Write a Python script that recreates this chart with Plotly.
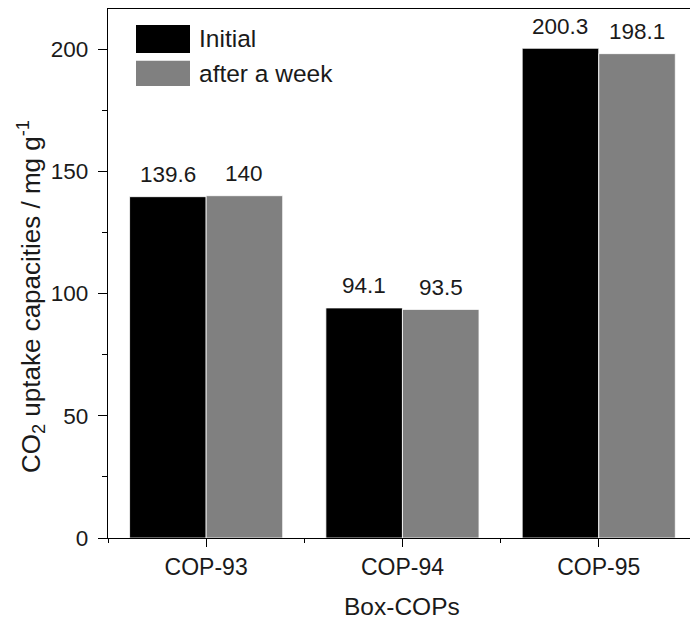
import plotly.graph_objects as go

# CO2 uptake of the three box-shaped COPs, freshly made and after one week
categories = ["COP-93", "COP-94", "COP-95"]
initial = [139.6, 94.1, 200.3]
after_week = [140.0, 93.5, 198.1]
series_names = ["Initial", "after a week"]
y_ticks = [0, 50, 100, 150, 200]

FONT = "Liberation Sans, Arial, sans-serif"
TXT = "#1a1a1a"
BLACK = "#000000"
GREY = "#808080"

W, H = 690, 625
ML, MR, MT, MB = 108, 0, 9, 87
plot_w = W - ML - MR
plot_h = H - MT - MB
y0_px = MT + plot_h  # pixel row of the x axis
px_per_cat = 196.3
px_per_unit = 2.445
x_range = [-0.5, -0.5 + plot_w / px_per_cat]
y_range = [0, plot_h / px_per_unit]

bargap = 0.22
half = (1 - bargap) / 4  # centre offset of each bar within its group

xpos = list(range(len(categories)))

fig = go.Figure()
for name, vals, col in [(series_names[0], initial, BLACK), (series_names[1], after_week, GREY)]:
    fig.add_trace(go.Bar(
        x=xpos, y=vals, name=name,
        marker=dict(color=col, line=dict(color="#ffffff", width=0.8)),
        showlegend=False,
    ))

# value labels above each bar
annotations = []
for i in xpos:
    for vals, off in [(initial, -half), (after_week, half)]:
        annotations.append(dict(
            x=i + off, y=vals[i], xref="x", yref="y", text=f"{vals[i]:g}",
            showarrow=False, yanchor="middle", yshift=22,
            font=dict(family=FONT, size=22.5, color=TXT),
        ))

# axis titles
annotations.append(dict(
    x=1, y=(y0_px - 606) / plot_h, xref="x", yref="paper", text="Box-COPs",
    showarrow=False, xanchor="center", yanchor="middle",
    font=dict(family=FONT, size=24.5, color=TXT),
))
annotations.append(dict(
    x=(31 - ML) / plot_w, y=(y0_px - 297) / plot_h, xref="paper", yref="paper",
    text="CO<sub>2</sub> uptake capacities / mg g<sup>-1</sup>", textangle=-90,
    showarrow=False, xanchor="center", yanchor="middle",
    font=dict(family=FONT, size=26, color=TXT),
))


def px2paper(xp, yp):
    return (xp - ML) / plot_w, (y0_px - yp) / plot_h


# legend: swatches and labels
shapes = []
for (ya, yb), col, label in [((25, 53), BLACK, series_names[0]), ((60.7, 86), GREY, series_names[1])]:
    ax0, ay0 = px2paper(136, yb)
    ax1, ay1 = px2paper(190, ya)
    shapes.append(dict(type="rect", xref="paper", yref="paper", x0=ax0, x1=ax1, y0=ay0, y1=ay1,
                       fillcolor=col, line=dict(width=0)))
    tx, ty = px2paper(197, (ya + yb) / 2)
    annotations.append(dict(
        x=tx, y=ty, xref="paper", yref="paper", text=label, showarrow=False,
        xanchor="left", yanchor="middle", font=dict(family=FONT, size=24.5, color=TXT),
    ))

fig.update_layout(
    width=W, height=H,
    margin=dict(l=ML, r=MR, t=MT, b=MB, pad=0),
    paper_bgcolor="white", plot_bgcolor="white",
    barmode="group", bargap=bargap, bargroupgap=0,
    annotations=annotations, shapes=shapes,
    font=dict(family=FONT, size=23, color=TXT),
)
fig.update_xaxes(
    range=x_range, tickmode="array", tickvals=xpos, ticktext=categories,
    showline=True, linecolor="black", linewidth=1.3, mirror=True,
    ticks="outside", ticklen=8, tickwidth=1.2, tickcolor="black",
    minor=dict(tickvals=[-0.5, 0.5, 1.5, 2.5], ticks="outside", ticklen=4, tickwidth=1.2, tickcolor="black"),
    showgrid=False, zeroline=False,
    tickfont=dict(family=FONT, size=23, color=TXT),
)
fig.update_yaxes(
    range=y_range, tickmode="array", tickvals=y_ticks,
    showline=True, linecolor="black", linewidth=1.3, mirror=False,
    ticks="outside", ticklen=9, tickwidth=1.2, tickcolor="black",
    minor=dict(tickvals=[25, 75, 125, 175], ticks="outside", ticklen=5, tickwidth=1.2, tickcolor="black"),
    showgrid=False, zeroline=False, ticklabelstandoff=5,
    tickfont=dict(family=FONT, size=22.5, color=TXT),
)

fig.write_html("out.html")
